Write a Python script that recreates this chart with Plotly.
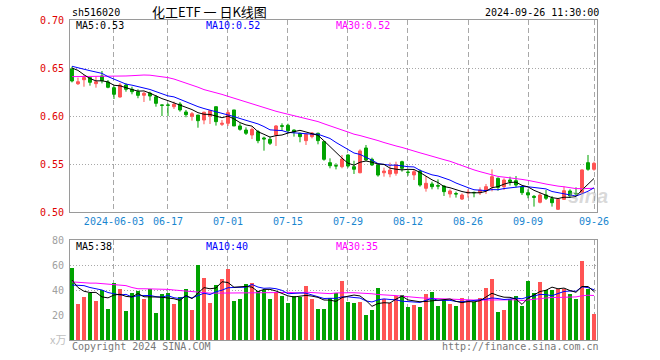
import plotly.graph_objects as go
import pandas as pd

# ---------------- data ----------------
holidays = ['2024-06-10', '2024-09-16', '2024-09-17']
trade_days = [d.strftime('%Y-%m-%d') for d in pd.bdate_range('2024-05-23', '2024-09-26')
              if d.strftime('%Y-%m-%d') not in holidays]

opens = [0.6490, 0.6336, 0.6378, 0.6400, 0.6337, 0.6417, 0.6354, 0.6295, 0.6198, 0.6323,
         0.6278, 0.6253, 0.6216, 0.6237, 0.6200, 0.6115, 0.6115, 0.6097, 0.6125, 0.6042,
         0.5997, 0.6010, 0.5958, 0.6000, 0.6097, 0.5913, 0.5924, 0.6063, 0.5896, 0.5854,
         0.5802, 0.5837, 0.5771, 0.5757, 0.5802, 0.5899, 0.5903, 0.5854, 0.5820, 0.5743,
         0.5785, 0.5820, 0.5733, 0.5514, 0.5483, 0.5472, 0.5594, 0.5472, 0.5409, 0.5667,
         0.5549, 0.5490, 0.5409, 0.5396, 0.5403, 0.5524, 0.5415, 0.5386, 0.5427, 0.5247,
         0.5292, 0.5275, 0.5270, 0.5188, 0.5192, 0.5135, 0.5198, 0.5204, 0.5201, 0.5222,
         0.5264, 0.5351, 0.5264, 0.5333, 0.5326, 0.5264, 0.5201, 0.5163, 0.5101, 0.5177,
         0.5139, 0.5028, 0.5132, 0.5219, 0.5194, 0.5198, 0.5514, 0.5445]
highs = [0.6514, 0.6400, 0.6427, 0.6403, 0.6410, 0.6469, 0.6375, 0.6310, 0.6344, 0.6340,
         0.6305, 0.6278, 0.6253, 0.6253, 0.6219, 0.6117, 0.6132, 0.6150, 0.6145, 0.6063,
         0.6042, 0.6010, 0.6045, 0.6063, 0.6097, 0.5958, 0.6063, 0.6063, 0.5924, 0.5882,
         0.5882, 0.5854, 0.5785, 0.5785, 0.5906, 0.5924, 0.5920, 0.5860, 0.5826, 0.5809,
         0.5833, 0.5826, 0.5733, 0.5559, 0.5507, 0.5594, 0.5601, 0.5534, 0.5653, 0.5698,
         0.5566, 0.5507, 0.5462, 0.5514, 0.5524, 0.5534, 0.5438, 0.5438, 0.5444, 0.5375,
         0.5316, 0.5340, 0.5281, 0.5236, 0.5212, 0.5194, 0.5236, 0.5212, 0.5257, 0.5292,
         0.5444, 0.5360, 0.5351, 0.5368, 0.5375, 0.5274, 0.5236, 0.5177, 0.5202, 0.5229,
         0.5167, 0.5146, 0.5264, 0.5236, 0.5257, 0.5444, 0.5594, 0.5524]
lows = [0.6350, 0.6323, 0.6305, 0.6316, 0.6295, 0.6340, 0.6289, 0.6177, 0.6191, 0.6253,
        0.6226, 0.6185, 0.6146, 0.6160, 0.6097, 0.6000, 0.6000, 0.6073, 0.6045, 0.5987,
        0.5951, 0.5878, 0.5914, 0.5917, 0.5900, 0.5896, 0.5896, 0.5896, 0.5847, 0.5802,
        0.5760, 0.5716, 0.5639, 0.5698, 0.5688, 0.5847, 0.5820, 0.5785, 0.5726, 0.5698,
        0.5767, 0.5705, 0.5534, 0.5455, 0.5444, 0.5455, 0.5462, 0.5396, 0.5403, 0.5534,
        0.5480, 0.5368, 0.5368, 0.5362, 0.5378, 0.5420, 0.5378, 0.5333, 0.5264, 0.5212,
        0.5236, 0.5236, 0.5167, 0.5150, 0.5150, 0.5125, 0.5150, 0.5153, 0.5177, 0.5188,
        0.5215, 0.5222, 0.5229, 0.5276, 0.5257, 0.5177, 0.5143, 0.5056, 0.5090, 0.5125,
        0.5056, 0.5021, 0.5125, 0.5150, 0.5167, 0.5194, 0.5430, 0.5430]
closes = [0.6365, 0.6357, 0.6400, 0.6351, 0.6357, 0.6368, 0.6299, 0.6226, 0.6323, 0.6278,
          0.6253, 0.6215, 0.6237, 0.6208, 0.6132, 0.6112, 0.6112, 0.6122, 0.6063, 0.6014,
          0.6024, 0.5951, 0.6039, 0.6055, 0.5941, 0.5924, 0.6035, 0.5896, 0.5861, 0.5820,
          0.5861, 0.5743, 0.5761, 0.5716, 0.5896, 0.5893, 0.5847, 0.5833, 0.5785, 0.5809,
          0.5823, 0.5743, 0.5549, 0.5482, 0.5480, 0.5552, 0.5479, 0.5445, 0.5636, 0.5542,
          0.5490, 0.5385, 0.5427, 0.5437, 0.5490, 0.5455, 0.5413, 0.5420, 0.5281, 0.5299,
          0.5264, 0.5270, 0.5212, 0.5219, 0.5188, 0.5177, 0.5206, 0.5201, 0.5229, 0.5264,
          0.5368, 0.5257, 0.5333, 0.5316, 0.5281, 0.5201, 0.5177, 0.5153, 0.5177, 0.5143,
          0.5097, 0.5132, 0.5222, 0.5167, 0.5190, 0.5438, 0.5445, 0.5507]
volumes = [58, 29, 34.5, 37.5, 31.5, 40, 25, 46, 40.5, 23,
           37.5, 39, 33, 41, 21.5, 36.5, 37.5, 28.5, 34.5, 41,
           24, 60, 50, 30, 44, 49, 57, 31, 32.5, 45,
           46, 39, 40, 32.5, 38.5, 35.5, 30, 35.5, 34.5, 43,
           32.5, 25, 25, 34, 38, 47.5, 30.7, 29.6, 30.4, 20,
           24, 41.9, 32.8, 29.3, 35.5, 36, 26.7, 28, 26.7, 36.8,
           38.7, 27.5, 32, 29, 27.2, 33.6, 32, 30.7, 33.6, 41.9,
           48.8, 22.7, 24.3, 33, 35, 27.5, 47.2, 37.6, 46.7, 40,
           40, 40.5, 40.5, 36.8, 33, 63.2, 40.5, 20.8]

# moving-average values at the start of the window (they depend on earlier, unseen days)
ma5_head = [0.6500, 0.6475, 0.6430, 0.6390]
ma10_head = [0.6518, 0.6500, 0.6486, 0.6472, 0.6458, 0.6444, 0.6410, 0.6382, 0.6360]
ma30_head = [0.6410, 0.6410, 0.6410, 0.6410, 0.6410, 0.6413, 0.6417, 0.6417, 0.6417, 0.6417,
             0.6420, 0.6425, 0.6427, 0.6425, 0.6418, 0.6410, 0.6400, 0.6385, 0.6365, 0.6345,
             0.6320, 0.6300, 0.6275, 0.6260, 0.6240, 0.6225, 0.6205, 0.6185, 0.6165]
vma5_head = [48, 42, 39, 38]
vma10_head = [44, 44, 43.5, 42, 41, 40, 38, 37, 36]
vma30_head = [46.5, 46, 45.5, 45.5, 45.5, 45, 45, 44.5, 44, 43.5,
              42, 41, 41, 41, 41, 40.5, 40.5, 40, 39.5, 39,
              38.5, 38, 37.5, 37.5, 37.5, 37.5, 37.5, 37.5, 37.5]

tick_dates = ['2024-06-03', '2024-06-17', '2024-07-01', '2024-07-15', '2024-07-29',
              '2024-08-12', '2024-08-26', '2024-09-09', '2024-09-26']
tick_text = [tick_dates[0]] + [d[5:] for d in tick_dates[1:]]
price_ticks = [0.50, 0.55, 0.60, 0.65, 0.70]
price_tick_text = ['0.50', '0.55', '0.60', '0.65', '0.70']
vol_ticks = [20, 40, 60, 80]

# ---------------- helpers ----------------
def moving_avg(values, n, head):
    s = pd.Series(values, dtype=float).rolling(n).mean().tolist()
    return list(head) + s[len(head):]

W, H = 660, 360
def px(x):
    return x / W
def py(y):
    return 1 - y / H

RED = '#ff5454'
GREEN = '#00a300'
MONO = 'DejaVu Sans Mono'
CHAR_W = 6.02  # advance of the 10px monospace font

idx = list(range(len(trade_days)))
tick_idx = [trade_days.index(d) for d in tick_dates]
bar_colors = [RED if c >= o else GREEN for o, c in zip(opens, closes)]

ma5 = moving_avg(closes, 5, ma5_head)
ma10 = moving_avg(closes, 10, ma10_head)
ma30 = moving_avg(closes, 30, ma30_head)
vma5 = moving_avg(volumes, 5, vma5_head)
vma10 = moving_avg(volumes, 10, vma10_head)
vma30 = moving_avg(volumes, 30, vma30_head)

fig = go.Figure()
fig.add_trace(go.Candlestick(
    x=idx, open=opens, high=highs, low=lows, close=closes,
    increasing=dict(line=dict(color=RED, width=1), fillcolor=RED),
    decreasing=dict(line=dict(color=GREEN, width=1), fillcolor=GREEN),
    whiskerwidth=0, showlegend=False, xaxis='x', yaxis='y'))
for vals, col in [(ma30, '#ff00ff'), (ma10, '#0000ff'), (ma5, '#000000')]:
    fig.add_trace(go.Scatter(x=idx, y=vals, mode='lines', line=dict(color=col, width=1),
                             showlegend=False, xaxis='x', yaxis='y'))

fig.add_trace(go.Bar(x=idx, y=volumes, marker=dict(color=bar_colors, line=dict(width=0)),
                     width=0.8, showlegend=False, xaxis='x2', yaxis='y2'))
for vals, col in [(vma30, '#ff00ff'), (vma10, '#0000ff'), (vma5, '#000000')]:
    fig.add_trace(go.Scatter(x=idx, y=vals, mode='lines', line=dict(color=col, width=1),
                             showlegend=False, xaxis='x2', yaxis='y2'))

xdom = [px(70), px(597)]
xr = [-0.33, len(idx) - 0.5]
axis_common = dict(showline=True, mirror=True, linecolor='#9a9a9a', linewidth=1,
                   zeroline=False, ticks='', automargin=False, fixedrange=True)
fig.update_layout(
    width=W, height=H, margin=dict(l=0, r=0, t=0, b=0, pad=0, autoexpand=False),
    paper_bgcolor='white', plot_bgcolor='white', bargap=0, boxgap=0.3,
    showlegend=False, hovermode=False,
    xaxis=dict(domain=xdom, range=xr, anchor='y', tickvals=tick_idx, ticktext=tick_text,
               showgrid=True, gridcolor='#a8a8a8', griddash='5px,3px', gridwidth=1,
               tickfont=dict(family=MONO, size=10, color='#1a86d0'),
               rangeslider=dict(visible=False), **axis_common),
    yaxis=dict(domain=[py(212), py(20)], range=[0.50, 0.70], anchor='x',
               tickvals=price_ticks, ticktext=price_tick_text,
               showgrid=True, gridcolor='#a8a8a8', griddash='1px,2px', gridwidth=1,
               tickfont=dict(family=MONO, size=10, color='#e00000'),
               ticklabelstandoff=3, **axis_common),
    xaxis2=dict(domain=xdom, range=xr, anchor='y2', tickvals=tick_idx, showticklabels=False,
                showgrid=True, gridcolor='#a8a8a8', griddash='5px,3px', gridwidth=1,
                **axis_common),
    yaxis2=dict(domain=[py(340), py(240)], range=[0, 80], anchor='x2',
                tickvals=vol_ticks,
                showgrid=True, gridcolor='#a8a8a8', griddash='1px,2px', gridwidth=1,
                tickfont=dict(family=MONO, size=10, color='#a0a0a0'),
                ticklabelstandoff=3, **axis_common),
)

def text(x, y, s, color='#000', size=10, xanchor='left', family=MONO, **kw):
    fig.add_annotation(x=px(x), y=py(y), xref='paper', yref='paper', text=s,
                       showarrow=False, xanchor=xanchor, yanchor='middle',
                       font=dict(family=family, size=size, color=color, **kw))

def text_right(x_right, y, s, **kw):
    text(x_right - len(s) * CHAR_W, y, s, **kw)

text(70, 13, 'sh516020')
text(150, 12, '化工ETF&nbsp;一&nbsp;日K线图', size=13, family='Noto Sans CJK SC')
text_right(597, 13, '2024-09-26 11:30:00')
text(74, 26, 'MA5:0.53')
text(204, 26, 'MA10:0.52', color='#0000ff')
text(334, 26, 'MA30:0.52', color='#ff00ff')
text(74, 246, 'MA5:38')
text(204, 246, 'MA10:40', color='#0000ff')
text(334, 246, 'MA30:35', color='#ff00ff')
text(48, 339, 'x万', color='#c0c0c0', size=11, family='Noto Sans CJK SC')
text(70, 346, 'Copyright 2024 SINA.COM', color='#777777')
text_right(597, 346, 'http://finance.sina.com.cn', color='#777777')
text(566, 196, 'sina', color='rgba(170,170,170,0.45)', size=20,
     family='Liberation Sans', style='italic', weight='bold')

fig.write_html('out.html', config={'displayModeBar': False, 'staticPlot': True},
               post_script="document.body.style.margin='0px';")
